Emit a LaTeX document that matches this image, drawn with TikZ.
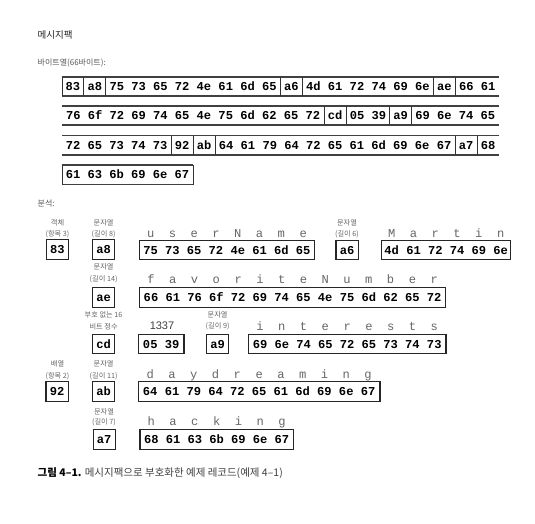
\documentclass[tikz,border=0pt]{standalone}
\usepackage{fontspec}
\setmainfont{Liberation Sans}
\newfontfamily\kr{Noto Sans CJK KR}
\newfontfamily\mono{Liberation Mono}
\newcommand\seg[5]{\node[hx] (#1) at ({62+21.85*(#2+#3)/2}, #4) {#5};}
\newcommand\abox[5]{\node[bx, minimum width=#3pt] (#1) at ({#2+#3/2}, #4) {#5};}
\newcommand\ltrs[6]{\foreach \c [count=\i from 0] in {#6} {\node[lt] (#1\i) at ({#2+#3/2+7.26*(3*\i-1.5*(#4-1))}, #5) {\c};}}
\begin{document}
\begin{tikzpicture}[x=1pt,y=-1pt,
 hx/.style={font=\mono\bfseries\fontsize{12.1}{12.1}\selectfont, inner sep=0pt, text height=8pt, text depth=0pt, text=black},
 bx/.style={hx, draw=black!85, line width=1.1pt, minimum height=19.5pt},
 lbl/.style={font=\kr\fontsize{7.2}{8}\selectfont, text=black!60, inner sep=0pt},
 lt/.style={font=\mono\fontsize{12.1}{12.1}\selectfont, text=black!60, inner sep=0pt, text height=7pt, text depth=0pt},
 rowline/.style={line width=1.2pt, draw=black!75},
 divline/.style={line width=0.8pt, draw=black!80}]
\fill[white] (0,0) rectangle (535,523);
\useasboundingbox (0,0) rectangle (535,523);

% headings
\node[anchor=west, inner sep=0pt, font=\kr\fontsize{9.5}{10}\selectfont, text=black!85] (title) at (37.5,35) {메시지팩};
\node[anchor=west, inner sep=0pt, font=\kr\fontsize{8}{9}\selectfont, text=black!65] (sub) at (37.5,63) {바이트열(66바이트):};
\node[anchor=west, inner sep=0pt, font=\kr\fontsize{8}{9}\selectfont, text=black!65] (ana) at (37.5,203) {분석:};

% byte stream rows: lines
\foreach \t/\b/\e in {77/96/20, 106/125/20, 135.5/155/20, 165/184.5/6} {
  \draw[rowline] (62,\t) -- ({62+21.85*\e},\t);
  \draw[rowline] (62,\b) -- ({62+21.85*\e},\b);
}
\foreach \k in {0,1,2,10,11,17,18} \draw[divline] ({62+21.85*\k},77) -- ({62+21.85*\k},96);
\foreach \k in {12,13,15,16} \draw[divline] ({62+21.85*\k},106) -- ({62+21.85*\k},125);
\foreach \k in {5,6,7,18,19} \draw[divline] ({62+21.85*\k},135.5) -- ({62+21.85*\k},155);
\foreach \k in {0,6} \draw[divline] ({62+21.85*\k},165) -- ({62+21.85*\k},184.5);

% row 1
\seg{r1a}{0}{1}{86.5}{83}
\seg{r1b}{1}{2}{86.5}{a8}
\seg{r1c}{2}{10}{86.5}{75 73 65 72 4e 61 6d 65}
\seg{r1d}{10}{11}{86.5}{a6}
\seg{r1e}{11}{17}{86.5}{4d 61 72 74 69 6e}
\seg{r1f}{17}{18}{86.5}{ae}
\seg{r1g}{18}{20}{86.5}{66 61}
% row 2
\seg{r2a}{0}{12}{115.5}{76 6f 72 69 74 65 4e 75 6d 62 65 72}
\seg{r2b}{12}{13}{115.5}{cd}
\seg{r2c}{13}{15}{115.5}{05 39}
\seg{r2d}{15}{16}{115.5}{a9}
\seg{r2e}{16}{20}{115.5}{69 6e 74 65}
% row 3
\seg{r3a}{0}{5}{145.2}{72 65 73 74 73}
\seg{r3b}{5}{6}{145.2}{92}
\seg{r3c}{6}{7}{145.2}{ab}
\seg{r3d}{7}{18}{145.2}{64 61 79 64 72 65 61 6d 69 6e 67}
\seg{r3e}{18}{19}{145.2}{a7}
\seg{r3f}{19}{20}{145.2}{68}
% row 4
\seg{r4a}{0}{6}{174.7}{61 63 6b 69 6e 67}

% analysis row A
\node[lbl] (la1) at (57.5,222.7) {객체};
\node[lbl] (la2) at (57.5,234) {(항목 3)};
\abox{b83}{46.2}{22.5}{249.5}{83}
\node[lbl] (la3) at (103.6,222.7) {문자열};
\node[lbl] (la4) at (103.6,234) {(길이 8)};
\abox{ba8}{92.7}{21.9}{249.5}{a8}
\ltrs{lu}{139.3}{175.2}{8}{233.5}{u,s,e,r,N,a,m,e}
\abox{buser}{139.3}{175.2}{250}{75 73 65 72 4e 61 6d 65}
\node[lbl] (la5) at (347,223) {문자열};
\node[lbl] (la6) at (347,234) {(길이 6)};
\abox{ba6}{336}{22.3}{250}{a6}
\ltrs{lm}{381.7}{129}{6}{233.5}{M,a,r,t,i,n}
\abox{bmartin}{381.7}{129}{250}{4d 61 72 74 69 6e}

% row B
\node[lbl] (lb1) at (103.6,267) {문자열};
\node[lbl] (lb2) at (103.6,279) {(길이 14)};
\abox{bae}{92.7}{21.9}{297.5}{ae}
\ltrs{lf}{139.3}{306.6}{14}{280}{f,a,v,o,r,i,t,e,N,u,m,b,e,r}
\abox{bfav}{139.3}{306.6}{297.5}{66 61 76 6f 72 69 74 65 4e 75 6d 62 65 72}

% row C
\node[lbl] (lc1) at (103.6,314.5) {부호 없는 16};
\node[lbl] (lc2) at (103.6,326.5) {비트 정수};
\abox{bcd}{92.7}{21.9}{344}{cd}
\node[inner sep=0pt, font=\fontsize{11}{12}\selectfont, text=black!75] (n1337) at (162,326) {1337};
\abox{b0539}{138.3}{45.7}{344}{05 39}
\node[lbl] (lc3) at (217.6,314.5) {문자열};
\node[lbl] (lc4) at (217.6,326.5) {(길이 9)};
\abox{ba9}{206.7}{21.9}{344}{a9}
\ltrs{li}{248.3}{197.7}{9}{327}{i,n,t,e,r,e,s,t,s}
\abox{bint}{248.3}{197.7}{344}{69 6e 74 65 72 65 73 74 73}

% row D
\node[lbl] (ld1) at (57.5,364) {배열};
\node[lbl] (ld2) at (57.5,376) {(항목 2)};
\abox{b92}{46}{22.5}{391.5}{92}
\node[lbl] (ld3) at (103.6,364) {문자열};
\node[lbl] (ld4) at (103.6,376) {(길이 11)};
\abox{bab}{92.7}{21.9}{391.5}{ab}
\ltrs{ld}{138.3}{241.7}{11}{374.5}{d,a,y,d,r,e,a,m,i,n,g}
\abox{bday}{138.3}{241.7}{391.5}{64 61 79 64 72 65 61 6d 69 6e 67}

% row E
\node[lbl] (le1) at (104,411.7) {문자열};
\node[lbl] (le2) at (104,422.5) {(길이 7)};
\abox{ba7}{93.2}{21.9}{439.5}{a7}
\ltrs{lh}{140}{153.3}{7}{422}{h,a,c,k,i,n,g}
\abox{bhack}{140}{153.3}{439.5}{68 61 63 6b 69 6e 67}

% caption
\node[anchor=west, inner sep=0pt, font=\kr\fontsize{10.5}{11}\selectfont] (cap) at (37.5,473) {{\bfseries 그림 4–1.} {\color{black!75}메시지팩으로 부호화한 예제 레코드(예제 4–1)}};
\end{tikzpicture}
\end{document}
